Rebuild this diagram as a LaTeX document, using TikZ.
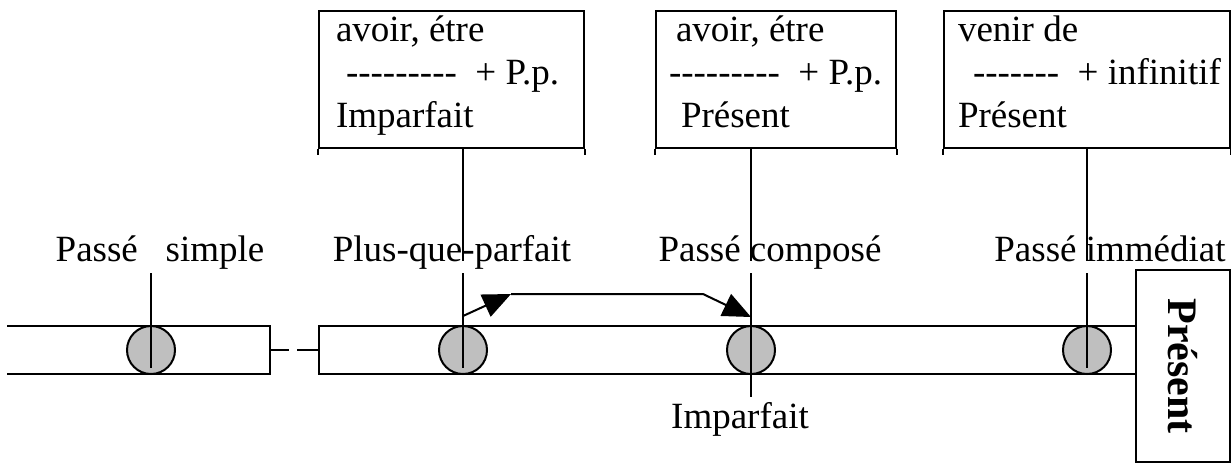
\documentclass[tikz,border=0pt]{standalone}
\usepackage{fontspec}
\setmainfont{Liberation Serif}
\usetikzlibrary{arrows.meta, positioning}

\newcommand{\hy}{\mbox{-}}

\begin{document}
\begin{tikzpicture}[
    x=0.5pt, y=-0.5pt,
    line width=1pt,
    font=\fontsize{18.5}{21.5}\selectfont,
    point/.style={circle, draw, fill=black!25, minimum size=24pt, inner sep=0pt},
    tbox/.style={rectangle, draw, anchor=north west, minimum height=68.5pt, inner sep=0pt},
    boxtext/.style={anchor=north west, align=left, inner sep=0pt},
    tlabel/.style={anchor=base, inner sep=0pt},
    arrow/.style={-{Triangle[length=14pt, width=12pt]}},
]
\useasboundingbox (0,0) rectangle (1231,463);

% Bandes du temps
\draw (7,326) -- (270,326) -- (270,374) -- (7,374);
\draw (270,350) -- (289,350) (297,350) -- (319,350);
\draw (1136,326) -- (319,326) -- (319,374) -- (1136,374);

% Present
\node[draw, rotate=-90, minimum width=96pt, minimum height=47pt, inner sep=0pt,
      font=\fontsize{21}{25}\selectfont\bfseries] (pres) at (1183,366) {Présent};

% Points
\node[point] (ps)  at (151,350)  {};
\node[point] (pqp) at (463,350)  {};
\node[point] (pc)  at (751,350)  {};
\node[point] (pim) at (1087,350) {};

% Boites
\node[tbox, minimum width=132.5pt] (b1) at (318,10) {};
\node[tbox, minimum width=120pt]   (b2) at (655,10) {};
\node[tbox, minimum width=143pt]   (b3) at (943,10) {};
\foreach \b in {b1,b2,b3}
    \draw (\b.south west) -- ++(0,6) (\b.south east) -- ++(0,6);

\node[boxtext] (t1) at (335,10)
    {\strut avoir, étre\\\hspace*{5pt}\hy\hy\hy\hy\hy\hy\hy\hy\hy~~+ P.p.\\Imparfait};
\node[boxtext] (t2) at (675,10)
    {\strut avoir, étre\\\hspace*{-3.5pt}\hy\hy\hy\hy\hy\hy\hy\hy\hy~~+ P.p.\\\hspace*{2.5pt}Présent};
\node[boxtext] (t3) at (957,10)
    {\strut venir de\\\hspace*{7.5pt}\hy\hy\hy\hy\hy\hy\hy~~+ infinitif\\Présent};

% Etiquettes
\node[tlabel] (lps)  at (160,261)  {Passé~~~simple};
\node[tlabel] (lpqp) at (452,261)  {Plus-que-parfait};
\node[tlabel] (lpc)  at (770,261)  {Passé composé};
\node[tlabel] (lpim) at (1110,261) {Passé immédiat};
\node[tlabel] (limp) at (740,428)  {Imparfait};

% Traits
\draw (pqp |- b1.south) -- (pqp |- lpqp.base);
\draw (pc |- b2.south) -- (pc |- lpc.base);
\draw (pim |- b3.south) -- (pim |- lpim.base);
\draw (ps.center) ++(0,-77) -- ++(0,95);
\draw (pqp.center) ++(0,-77) -- ++(0,95);
\draw (pc.center) ++(0,-77) -- ++(0,124);
\draw (pim.center) ++(0,-77) -- ++(0,95);

% Fleche
\coordinate (k1) at (511,294);
\coordinate (k2) at (703,294);
\draw[arrow] ([yshift=4.5pt]pqp.north) -- (k1);
\draw[arrow] (k1) -- (k2) -- ([yshift=4pt]pc.north);

\end{tikzpicture}
\end{document}
